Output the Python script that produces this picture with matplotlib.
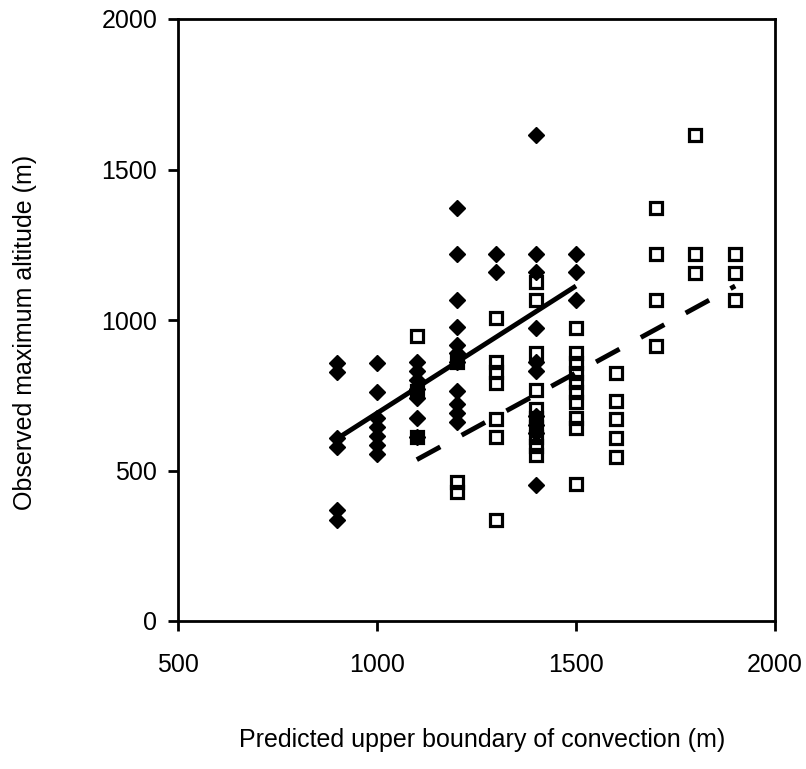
import matplotlib
matplotlib.use("Agg")
import matplotlib.pyplot as plt

plt.rcParams['font.family'] = ['Liberation Sans', 'DejaVu Sans']

# filled diamonds, one list of y values per x column
diamond_x = [900, 1000, 1100, 1200, 1300, 1400, 1500]
diamond_y = [
    [856, 826, 608, 579, 368, 336],
    [856, 762, 675, 645, 615, 585, 555],
    [860, 830, 800, 770, 740, 673, 612],
    [1372, 1219, 1066, 978, 918, 890, 862, 765, 720, 690, 660],
    [1219, 1160],
    [1615, 1219, 1160, 973, 860, 830, 680, 650, 625, 452],
    [1219, 1160, 1066],
]

# open squares
square_x = [1100, 1200, 1300, 1400, 1500, 1600, 1700, 1800, 1900]
square_y = [
    [948, 765, 612],
    [860, 463, 428],
    [1008, 862, 826, 792, 672, 611, 335],
    [1127, 1066, 890, 767, 705, 675, 645, 610, 580, 550],
    [973, 889, 856, 823, 793, 762, 729, 673, 640, 455],
    [824, 730, 670, 608, 546],
    [1372, 1219, 1065, 912],
    [1615, 1219, 1155],
    [1219, 1155, 1065],
]

# trend lines (end points)
solid_x = [900, 1500]
solid_y = [606, 1113]
dashed_x = [1100, 1900]
dashed_y = [536, 1113]

fig = plt.figure(figsize=(8.06, 7.69), dpi=100)
ax = fig.add_axes([178/806, 1 - 621/769, 597/806, 602/769])

for x, ys in zip(diamond_x, diamond_y):
    ax.plot([x]*len(ys), ys, linestyle='none', marker='D', markersize=8,
            color='black', zorder=3)

for x, ys in zip(square_x, square_y):
    ax.plot([x]*len(ys), ys, linestyle='none', marker='s', markersize=8.5,
            markerfacecolor='none', markeredgecolor='black',
            markeredgewidth=2.3, zorder=4)

ax.plot(solid_x, solid_y, color='black', linewidth=3.5, zorder=5,
        solid_capstyle='butt')
ax.plot(dashed_x, dashed_y, color='black', linewidth=3.5, zorder=5,
        dashes=(5.5, 5), dash_capstyle='butt')

ax.set_xlim(500, 2000)
ax.set_ylim(0, 2000)
ax.set_xticks([500, 1000, 1500, 2000])
ax.set_yticks([0, 500, 1000, 1500, 2000])
ax.tick_params(direction='out', length=7, width=2, labelsize=18)
ax.tick_params(axis='x', pad=16)
ax.tick_params(axis='y', pad=8)
for s in ax.spines.values():
    s.set_linewidth(2)

ax.set_xlabel('Predicted upper boundary of convection (m)', fontsize=18)
ax.set_ylabel('Observed maximum altitude (m)', fontsize=18)
ax.xaxis.label.set_va('center')
ax.yaxis.label.set_va('center')
ax.xaxis.set_label_coords(0.509, -0.198)
ax.yaxis.set_label_coords(-0.256, 0.48)

fig.savefig('out.png', dpi=100)
